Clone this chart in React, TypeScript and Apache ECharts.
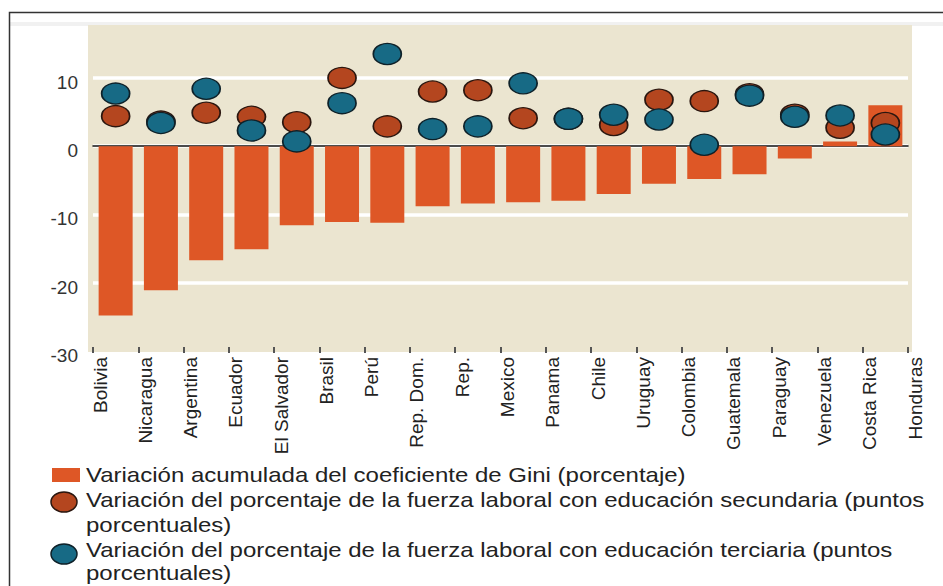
import React, { useEffect, useRef } from "react";
import * as echarts from "echarts";

// Etiquetas del eje (19) y valores dibujados (18 columnas, como en el original)
const tickLabels = [
  "Bolivia", "Nicaragua", "Argentina", "Ecuador", "El Salvador", "Brasil", "Perú",
  "Rep. Dom.", "Rep.", "Mexico", "Panama", "Chile", "Uruguay", "Colombia",
  "Guatemala", "Paraguay", "Venezuela", "Costa Rica", "Honduras",
];
const barSlots = [
  "c1", "c2", "c3", "c4", "c5", "c6", "c7", "c8", "c9",
  "c10", "c11", "c12", "c13", "c14", "c15", "c16", "c17", "c18",
];
const giniVariation = [
  -24.8, -21.1, -16.7, -15.1, -11.6, -11.1, -11.2, -8.8, -8.4,
  -8.2, -8.0, -7.0, -5.5, -4.8, -4.1, -1.8, 0.7, 6.0,
];
const secondaryEdu = [
  4.4, 3.6, 4.9, 4.3, 3.5, 10.0, 2.9, 8.0, 8.2,
  4.1, 4.0, 3.1, 6.8, 6.6, 7.6, 4.6, 2.7, 3.4,
];
const tertiaryEdu = [
  7.7, 3.4, 8.4, 2.3, 0.7, 6.3, 13.5, 2.5, 2.9,
  9.2, 4.0, 4.6, 3.9, 0.2, 7.4, 4.3, 4.5, 1.7,
];
const yMin = -30;
const yMax = 17.6;
const yInterval = 10;

const legendLines = [
  "Variación acumulada del coeficiente de Gini (porcentaje)",
  "Variación del porcentaje de la fuerza laboral con educación secundaria (puntos",
  "porcentuales)",
  "Variación del porcentaje de la fuerza laboral con educación terciaria (puntos",
  "porcentuales)",
];

const BAR = "#de5726";
const RED = "#b4461f";
const BLUE = "#176a85";
const BG = "#ebe5d0";
const FONT = "'Liberation Sans', Arial, sans-serif";

export default function App() {
  const ref = useRef<HTMLDivElement>(null);
  useEffect(() => {
    if (!ref.current) return;
    const chart = echarts.init(ref.current, undefined, { renderer: "svg" });
    const legendY = [475, 500, 525, 550, 573];
    const option: any = {
      animation: false,
      backgroundColor: "#ffffff",
      textStyle: { fontFamily: FONT },
      grid: [
        { left: 93, right: 35, top: 26, height: 325 },
        { left: 100, right: 28, top: 26, height: 325 },
      ],
      xAxis: [
        {
          type: "category",
          gridIndex: 0,
          data: barSlots,
          position: "top",
          axisLine: { show: true, onZero: true, lineStyle: { color: "#111", width: 1.5 } },
          axisTick: { show: false },
          axisLabel: { show: false },
          splitLine: { show: false },
        },
        {
          type: "category",
          gridIndex: 0,
          data: tickLabels,
          position: "bottom",
          boundaryGap: false,
          offset: 2,
          axisLine: { show: false, onZero: false },
          axisTick: { show: true, inside: true, length: 6, interval: 0, lineStyle: { color: "#555", width: 2 } },
          axisLabel: { show: false },
          splitLine: { show: false },
        },
        {
          type: "category",
          gridIndex: 1,
          data: tickLabels,
          position: "bottom",
          boundaryGap: false,
          axisLine: { show: false, onZero: false },
          axisTick: { show: false },
          axisLabel: {
            show: true,
            interval: 0,
            rotate: 90,
            margin: 6,
            fontSize: 19,
            color: "#222",
            fontFamily: FONT,
          },
          splitLine: { show: false },
        },
      ],
      yAxis: [
        {
          type: "value",
          gridIndex: 0,
          min: yMin,
          max: yMax,
          interval: yInterval,
          axisLine: { show: false },
          axisTick: { show: false },
          axisLabel: {
            fontSize: 19,
            color: "#333",
            margin: 15,
            showMaxLabel: false,
            verticalAlign: "top",
            lineHeight: 9,
            fontFamily: FONT,
          },
          splitLine: {
            show: true,
            showMinLine: false,
            showMaxLine: false,
            lineStyle: { color: "#ffffff", width: 3.5 },
          },
        },
        { type: "value", gridIndex: 1, min: yMin, max: yMax, show: false, splitLine: { show: false } },
      ],
      series: [
        {
          type: "bar",
          name: "gini",
          xAxisIndex: 0,
          yAxisIndex: 0,
          data: giniVariation,
          barWidth: 34,
          itemStyle: { color: BAR },
          z: 2,
        },
        {
          type: "scatter",
          name: "secundaria",
          xAxisIndex: 0,
          yAxisIndex: 0,
          data: secondaryEdu,
          symbol: "circle",
          symbolSize: [28, 21],
          itemStyle: { color: RED, borderColor: "#2a160f", borderWidth: 1.5, opacity: 1 },
          z: 3,
        },
        {
          type: "scatter",
          name: "terciaria",
          xAxisIndex: 0,
          yAxisIndex: 0,
          data: tertiaryEdu,
          symbol: "circle",
          symbolSize: [28, 21],
          itemStyle: { color: BLUE, borderColor: "#0e2129", borderWidth: 1.5, opacity: 1 },
          z: 4,
        },
      ],
      graphic: [
        { type: "rect", z: -20, silent: true, shape: { x: 10, y: 22, width: 933, height: 4 }, style: { fill: "#f1f1f1" } },
        { type: "rect", z: -10, silent: true, shape: { x: 88, y: 25, width: 824, height: 327 }, style: { fill: BG } },
        {
          type: "rect",
          z: 100,
          silent: true,
          shape: { x: 9.5, y: 12.5, width: 960, height: 600 },
          style: { fill: "none", stroke: "#333", lineWidth: 1.5 },
        },
        { type: "rect", shape: { x: 52, y: 468, width: 28, height: 14 }, style: { fill: BAR } },
        {
          type: "ellipse",
          shape: { cx: 64, cy: 502, rx: 13, ry: 10 },
          style: { fill: RED, stroke: "#2a160f", lineWidth: 1.5 },
        },
        {
          type: "ellipse",
          shape: { cx: 64, cy: 554, rx: 13, ry: 10 },
          style: { fill: BLUE, stroke: "#0e2129", lineWidth: 1.5 },
        },
        ...legendLines.map((t, i) => ({
          type: "text",
          x: 86,
          y: legendY[i],
          scaleX: 1.2,
          style: {
            text: t,
            fill: "#222",
            font: `20px ${FONT}`,
            verticalAlign: "middle",
          },
        })),
      ],
    };
    chart.setOption(option);
    return () => chart.dispose();
  }, []);
  return (
    <div
      ref={ref}
      style={{ position: "fixed", left: 0, top: 0, width: 943, height: 586 }}
    />
  );
}
